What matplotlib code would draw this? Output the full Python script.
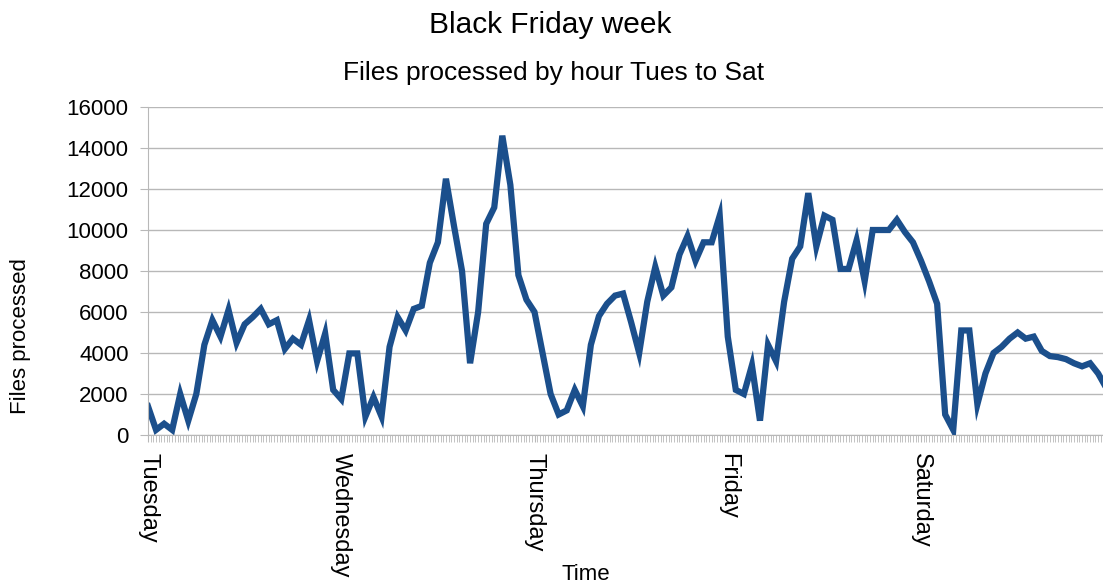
import matplotlib.pyplot as plt
from matplotlib.ticker import MultipleLocator
import numpy as np

plt.rcParams['font.family'] = ['Liberation Sans', 'DejaVu Sans']

# hourly counts, Tuesday 00:00 onwards
tuesday = [1400, 250, 550, 250, 2000, 700, 2000, 4400, 5600, 4800, 6100, 4500,
           5400, 5750, 6150, 5400, 5600, 4200, 4700, 4400, 5600, 3600, 4950, 2200]
wednesday = [1750, 3980, 3980, 900, 1850, 900, 4300, 5750, 5100, 6150, 6300, 8400,
             9400, 12500, 10200, 8000, 3500, 6000, 10300, 11100, 14600, 12200, 7800, 6600]
thursday = [6000, 4000, 2000, 1000, 1200, 2200, 1400, 4400, 5800, 6400, 6800, 6900,
            5500, 4000, 6500, 8200, 6800, 7200, 8800, 9700, 8500, 9400, 9400, 10700]
friday = [4800, 2200, 2000, 3400, 700, 4400, 3600, 6500, 8600, 9200, 11800, 9200,
          10700, 10500, 8100, 8100, 9500, 7500, 10000, 10000, 10000, 10500, 9900, 9400]
saturday = [8500, 7500, 6400, 1000, 250, 5100, 5100, 1500, 3000, 4000, 4300, 4700,
            5000, 4700, 4800, 4100, 3850, 3800, 3700, 3500, 3350, 3500, 3000, 2300]

day_names = ['Tuesday', 'Wednesday', 'Thursday', 'Friday', 'Saturday']

files = tuesday + wednesday + thursday + friday + saturday
hours = np.arange(len(files))

W, H = 1103, 586
fig = plt.figure(figsize=(W/100, H/100), dpi=100)
ax = fig.add_axes([148/W, 1-435/H, 1-148/W, 328/H])

ax.plot(hours, files, color='#1b4f8c', linewidth=4.5, solid_joinstyle='miter')

ax.set_xlim(0, 118.6)
ax.set_ylim(0, 16000)
ax.yaxis.set_major_locator(MultipleLocator(2000))
ax.grid(axis='y', color='#b8b8b8', linewidth=1)
ax.set_axisbelow(True)

ax.set_xticks([24*i for i in range(len(day_names))])
ax.set_xticklabels(day_names, rotation=-90, va='top', ha='center')
ax.xaxis.set_minor_locator(MultipleLocator(1/3))

for s in ['top', 'right']:
    ax.spines[s].set_visible(False)
for s in ['left', 'bottom']:
    ax.spines[s].set_color('#b8b8b8')

ax.tick_params(axis='y', length=6, color='#b8b8b8', labelsize=16, pad=8)
ax.tick_params(axis='x', which='both', length=5, color='#b8b8b8', labelsize=17, pad=8, direction='out')

ax.set_ylabel('Files processed', fontsize=16)
ax.yaxis.set_label_coords(-128/W * W/(W-148), (435-336)/328)
ax.set_xlabel('Time', fontsize=16)
ax.xaxis.set_label_coords((586-148)/(W-148), -(575-435)/328)
ax.xaxis.label.set_va('center')
ax.yaxis.label.set_va('center')

fig.text(550/W, 1-25/H, 'Black Friday week', ha='center', va='center', fontsize=21.5)
fig.text(554/W, 1-73/H, 'Files processed by hour Tues to Sat', ha='center', va='center', fontsize=19)

plt.savefig('out.png', dpi=100)
